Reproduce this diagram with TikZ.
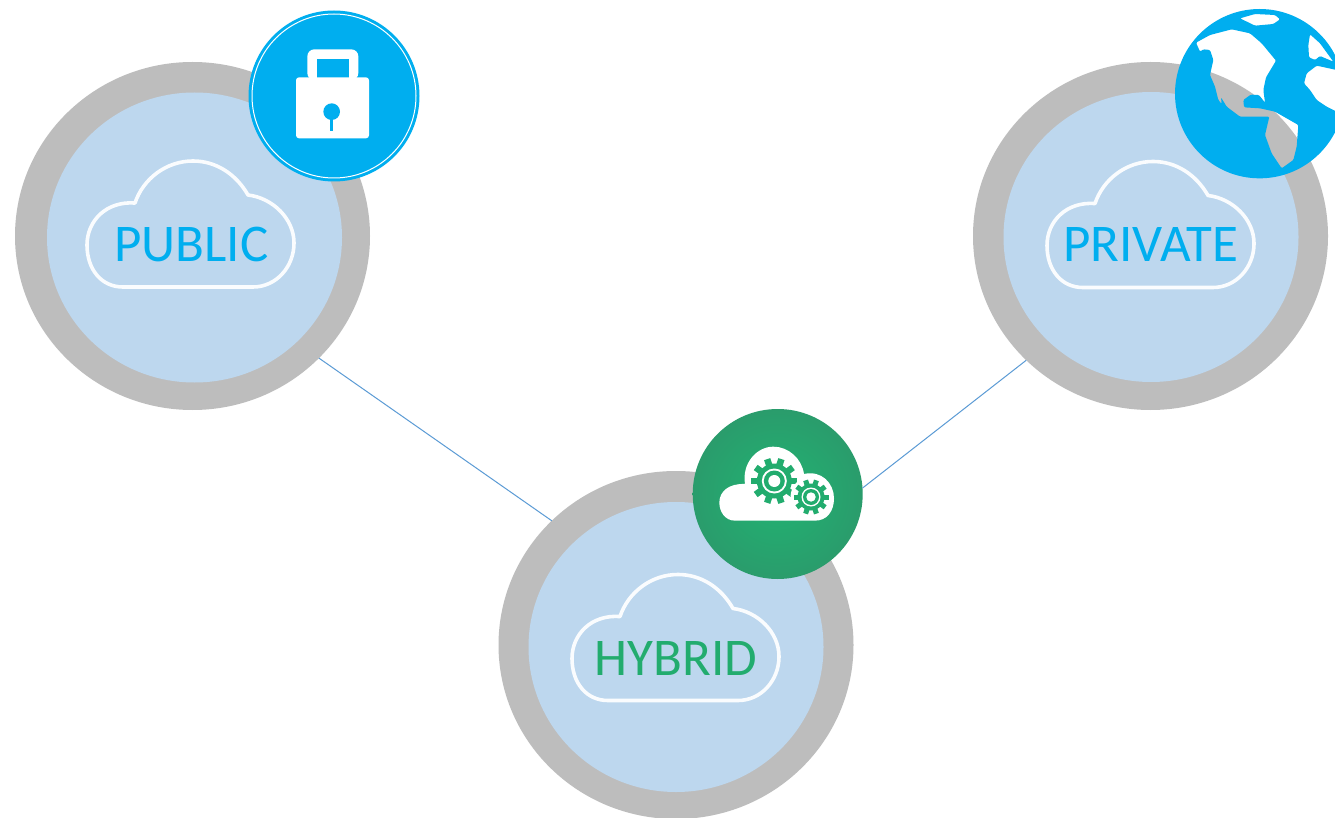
\documentclass[tikz,border=0pt]{standalone}
\usepackage{fontspec}
\setmainfont{Carlito}
\usetikzlibrary{shapes.geometric}
\definecolor{ringgray}{HTML}{BDBDBD}
\definecolor{paleblue}{HTML}{BDD7EE}
\definecolor{cyanblue}{HTML}{00AEEF}
\definecolor{leaf}{HTML}{22AC6E}
\definecolor{leafedge}{HTML}{2A9C6C}
\definecolor{leafmid}{HTML}{21B372}
\definecolor{linkblue}{HTML}{5B9BD5}
\tikzset{
  ringnode/.style={ellipse,draw=none,fill=ringgray,minimum width=355pt,minimum height=348pt,inner sep=0pt,outer sep=0pt},
  corenode/.style={ellipse,draw=none,fill=paleblue,minimum width=295pt,minimum height=290pt,inner sep=0pt,outer sep=0pt},
  labeltext/.style={inner sep=0pt,font=\fontsize{53}{53}\selectfont},
  iconnode/.style={circle,draw=none,minimum size=170pt,inner sep=0pt,outer sep=0pt},
  linkline/.style={draw=linkblue,line width=1pt},
  cloudline/.pic={
    \draw[white!92!paleblue,line width=3.6pt,line join=round]
      (-68,63) -- (62,63) .. controls (85,63) and (103,43) .. (103,19)
      .. controls (103,-5) and (82,-26) .. (57,-29)
      .. controls (45,-50) and (25,-63) .. (2,-63)
      .. controls (-25,-63) and (-48,-45) .. (-56,-21)
      .. controls (-85,-23) and (-104,-3) .. (-104,21)
      .. controls (-104,45) and (-90,63) .. (-68,63) -- cycle;
  }
}
% centre x, centre y, tip, root, ring outer, ring inner, hole, tooth width
\newcommand{\gearshape}[8]{%
  \begin{scope}[shift={(#1,#2)}]
    \fill[white] (0,0) circle ({#3+3});
    \fill[leaf] (0,0) circle (#4);
    \foreach \a in {0,36,...,324}{
      \draw[leaf,line width=#8] (\a:{#4-2}) -- (\a:#3);
    }
    \fill[white] (0,0) circle (#5);
    \fill[leaf] (0,0) circle (#6);
    \fill[white] (0,0) circle (#7);
  \end{scope}}
\begin{document}
\begin{tikzpicture}[x=1pt,y=-1pt]
\useasboundingbox (0,0) rectangle (1335,818);
\fill[white] (0,0) rectangle (1335,818);
\begin{scope}
\clip (0,0) rectangle (1335,818);
% rings
\node[ringnode] (publicring) at (192.5,236) {};
\node[ringnode] (privatering) at (1150.5,236) {};
\node[ringnode] (hybridring) at (676,645) {};
\node[corenode] (publiccore) at (194.5,237.5) {};
\node[corenode] (privatecore) at (1151,237) {};
\node[corenode] (hybridcore) at (676,647) {};
% clouds
\pic at (191,224) {cloudline};
\pic at (1151,224.5) {cloudline};
\pic at (676,637.5) {cloudline};
% labels
\node[labeltext,text=cyanblue] (publiclabel) at (191.5,244) {PUBLIC};
\node[labeltext,text=cyanblue] (privatelabel) at (1151,244) {PRIVATE};
\node[labeltext,text=leaf] (hybridlabel) at (676,658) {HYBRID};
% lock icon
\node[iconnode,fill=cyanblue,minimum size=171pt] (lockicon) at (334,96) {};
\draw[white,line width=1pt] (lockicon.center) circle (82);
\begin{scope}[shift={(230,0)},x=0.33333pt,y=-0.33333pt]
  \fill[white,rounded corners=7pt] (232,240) -- (232,148) -- (385,148) -- (385,240) -- cycle;
  \fill[cyanblue] (260,177) rectangle (357,236);
  \fill[white,rounded corners=3pt] (198,232) rectangle (417,415);
  \fill[cyanblue] (305,335) circle (25);
  \fill[cyanblue] (301,340) rectangle (309,394);
\end{scope}
% globe icon
\path (1259.7,93.7) node[iconnode,minimum size=169.4pt] (globeicon) {};
\begin{scope}[shift={(1160,0)},x=0.33333pt,y=-0.33333pt]
  \fill[cyanblue,even odd rule,rounded corners=1.2pt] (299,281) circle (254)
    (240,55) -- (285,42) -- (345,45) -- (360,58) -- (340,72) -- (285,77) -- cycle
    (108,128) -- (150,105) -- (215,88) -- (270,100) -- (305,130) -- (348,182) -- (318,232) -- (310,270) -- (315,308) -- (297,285) -- (272,284) -- (250,300) -- (252,322) -- (300,325) -- (345,335) -- (415,375) -- (410,440) -- (400,480) -- (365,505) -- (335,460) -- (315,405) -- (328,350) -- (240,350) -- (200,320) -- (183,292) -- (185,312) -- (175,300) -- (165,260) -- (150,225) -- (160,180) -- (150,150) -- (130,148) -- (120,155) -- cycle
    (450,103) -- (480,130) -- (520,185) -- (480,168) -- (465,180) -- (447,172) -- (445,135) -- cycle
    (470,197) -- (530,210) -- (530,335) -- (500,320) -- (470,300) -- (450,270) -- (432,250) -- (440,220) -- cycle;
\end{scope}
% hybrid icon
\node[iconnode,inner color=leafmid,outer color=leafedge] (gearicon) at (777.7,494) {};
\begin{scope}[shift={(680,400)},x=0.33333pt,y=-0.33333pt]
  \fill[white] (165,362) .. controls (135,362) and (118,335) .. (118,308)
    .. controls (118,275) and (145,250) .. (195,252)
    .. controls (185,190) and (230,140) .. (280,140)
    .. controls (325,140) and (365,175) .. (372,222)
    .. controls (425,210) and (462,250) .. (462,295)
    .. controls (462,335) and (440,362) .. (405,362) -- cycle;
\end{scope}
\gearshape{774.3}{481}{23}{17.5}{12.5}{10.5}{6}{6.5pt}
\gearshape{811}{497}{17.5}{13.5}{9.5}{8}{4.7}{5pt}
% connectors
\draw[linkline] (publicring.-44.6) -- (hybridring.135.7);
\draw[linkline] (gearicon.4.7) -- (privatering.225);
\end{scope}
\end{tikzpicture}
\end{document}
